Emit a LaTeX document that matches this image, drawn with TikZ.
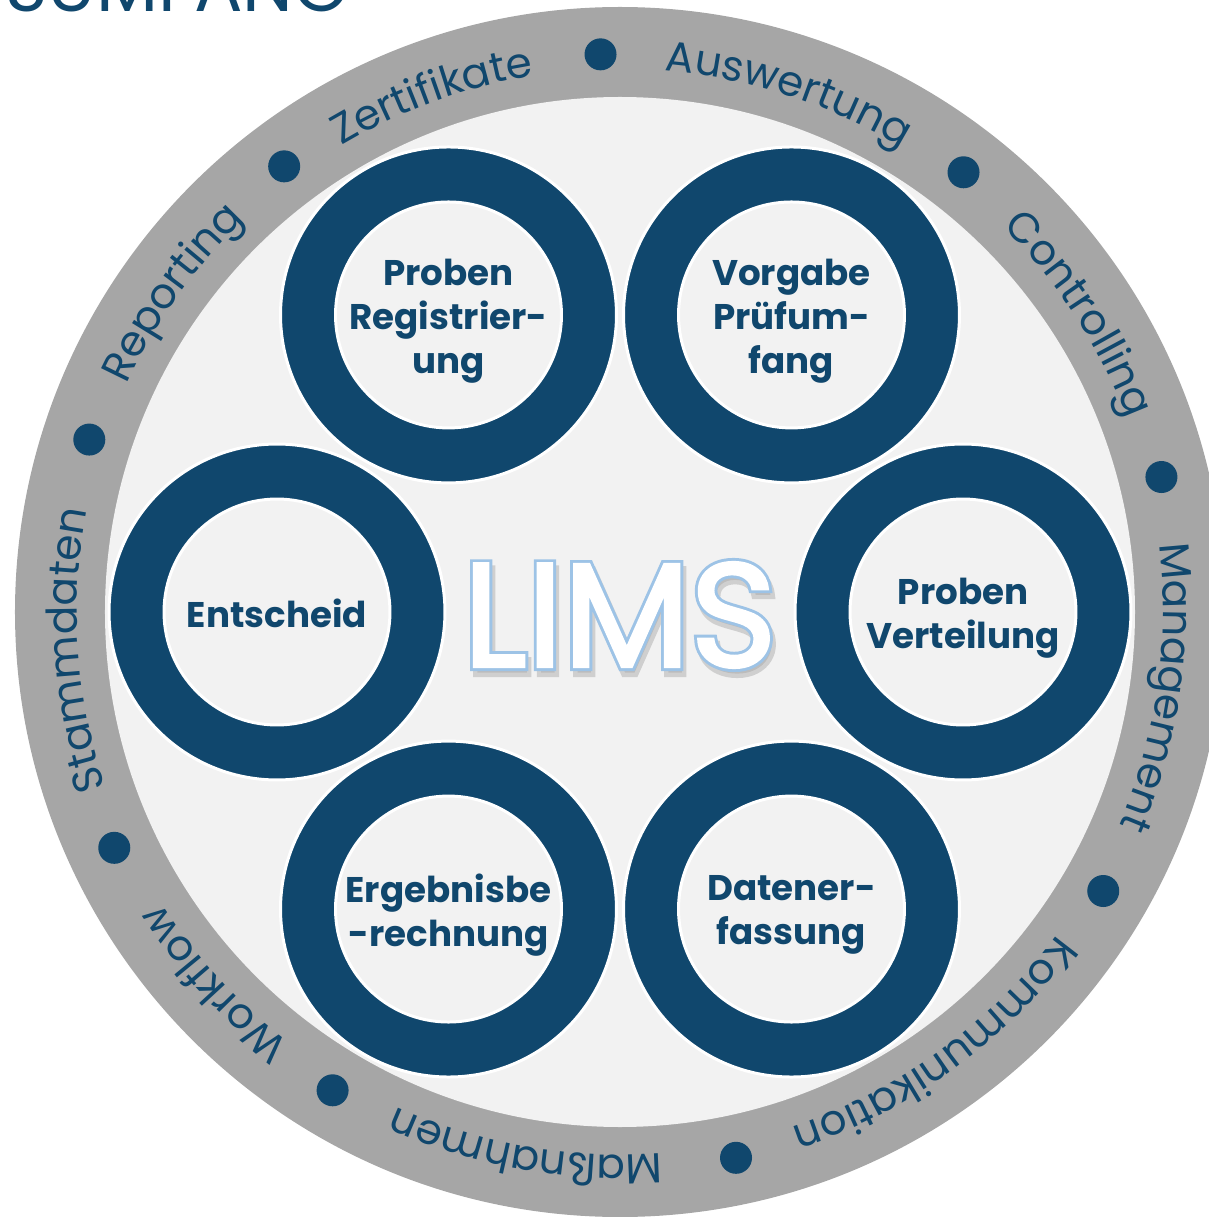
\documentclass[tikz,border=0pt]{standalone}
\usepackage{fontspec}
\setmainfont{Poppins}
\newfontfamily\limsedge[FakeBold=6]{Poppins}
\newfontfamily\limsfill[FakeBold=2]{Poppins}
\usetikzlibrary{calc,decorations.text}
\definecolor{limsblue}{HTML}{10476D}
\definecolor{ringgray}{HTML}{A6A6A6}
\definecolor{discgray}{HTML}{F2F2F2}
\definecolor{edgeblue}{HTML}{9DC3E6}
\newcommand\ringfont{\fontsize{24}{28}\selectfont}
\tikzset{
  ringbox/.style={circle,fill=limsblue,draw=white,line width=1.7pt,minimum size=6.72cm,inner sep=0pt},
  holebox/.style={circle,fill=discgray,draw=white,line width=1.7pt,minimum size=4.52cm,inner sep=0pt},
  labelbox/.style={align=center,text=limsblue,font=\bfseries\fontsize{20.3}{25}\selectfont},
  limsfont/.style={font=\fontsize{84}{90}\selectfont,inner sep=0pt}
}
\begin{document}
\begin{tikzpicture}[x=0.02cm,y=0.02cm]
  \useasboundingbox (-620,-605) rectangle (589,612);
  \node[anchor=base east,inner sep=0pt,text=limsblue,font=\fontsize{41}{42}\selectfont] (title) at (-270,600) {LEISTUNGSUMFANG};
  % outer ring and disc
  \fill[ringgray] (0,0) circle (605);
  \fill[discgray] (0,0) circle (515);
  \foreach \a in {92,52,14,-30,-78,-121,-155,162,127}
    \fill[limsblue] (\a:558) circle (16);
  \foreach \a/\w in {110/Zertifikate,72/Auswertung,33/Controlling,-8/Management,-54/Kommunikation,-100/Maßnahmen,-137.5/Workflow,184/Stammdaten,144.5/Reporting}
    \path[decorate,decoration={text along path,text/.expanded={|\noexpand\ringfont|\w},text align=center,text color=limsblue}]
      (\a+40:543) arc[start angle=\a+40,end angle=\a-40,radius=543];
  % LIMS
  \node[limsfont,text=black!35,opacity=0.45] (lims-shadow) at (3,-9) {\limsedge LIMS};
  \node[limsfont,text=edgeblue] (lims-edge) at (0,-3) {\limsedge LIMS};
  \node[limsfont,text=white] (lims) at (0,-3) {\limsfill LIMS};
  % steps
  \foreach \a/\n/\s/\t in {120/reg/-6/{Proben\\Registrier-\\ung},60/vorg/-6/{Vorgabe\\Prüfum-\\fang},0/vert/-6/{Proben\\Verteilung},-60/daten/-6/{Datener-\\fassung},-120/erg/-6/{Ergebnisbe\\-rechnung},180/ent/-1/{Entscheid}}{
    \node[ringbox] (\n) at (\a:343) {};
    \node[holebox] (\n-hole) at (\n) {};
    \node[labelbox] (\n-label) at ($(\n)+(0,\s)$) {\t};
  }
\end{tikzpicture}
\end{document}
